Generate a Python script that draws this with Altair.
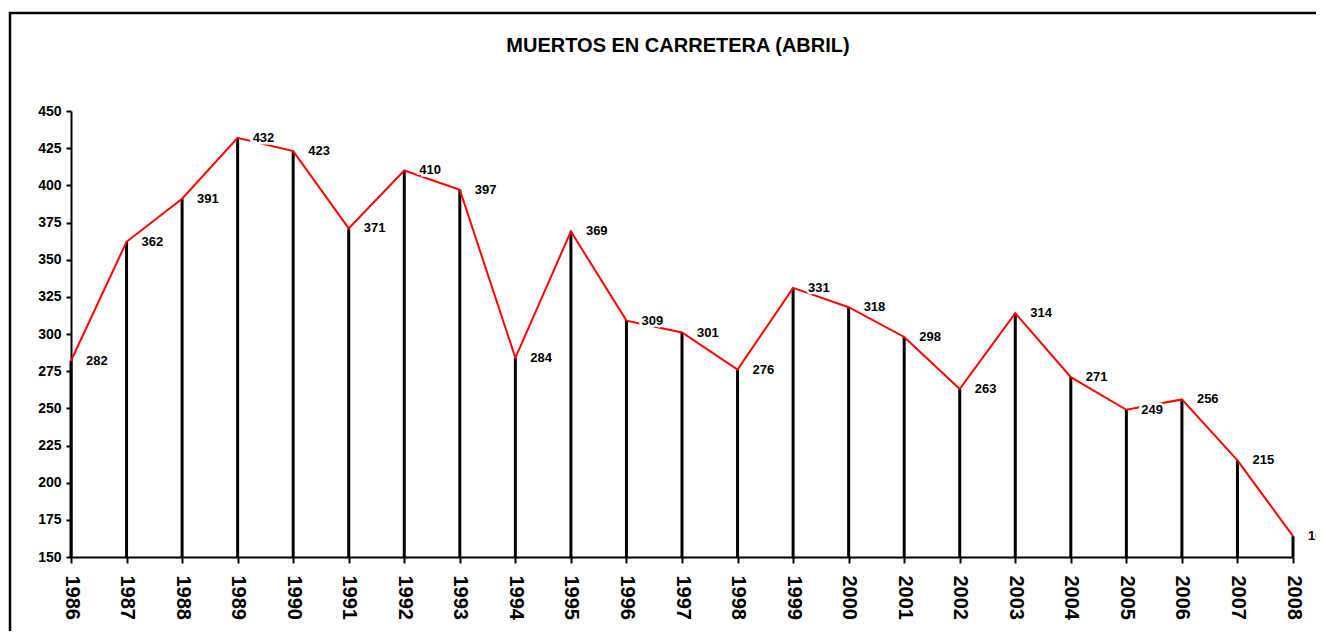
import altair as alt
import pandas as pd

years = list(range(1986, 2009))
deaths = [282, 362, 391, 432, 423, 371, 410, 397, 284, 369, 309, 301, 276,
          331, 318, 298, 263, 314, 271, 249, 256, 215, 164]
y_ticks = [150, 175, 200, 225, 250, 275, 300, 325, 350, 375, 400, 425, 450]

df = pd.DataFrame({"year": years, "deaths": deaths})

FONT = "Liberation Sans"
W, H = 1222, 446

x_enc = alt.X("year:Q",
              scale=alt.Scale(domain=[1986, 2008], nice=False, zero=False),
              axis=alt.Axis(values=years, format="d", labelAngle=90,
                            labelAlign="left", labelBaseline="middle",
                            labelFont=FONT, labelFontSize=20, labelFontWeight="bold",
                            labelColor="black", labelPadding=12,
                            tickSize=6, tickWidth=2, tickColor="black",
                            domainColor="black", domainWidth=2,
                            grid=False, title=None, labelOverlap=False))
y_enc = alt.Y("deaths:Q",
              scale=alt.Scale(domain=[150, 450], nice=False, zero=False),
              axis=alt.Axis(values=y_ticks, labelFont=FONT, labelFontSize=14,
                            labelFontWeight="bold", labelColor="black",
                            labelPadding=5, tickSize=5, tickWidth=2,
                            tickColor="black", domainColor="black",
                            domainWidth=2, grid=False, title=None))

base = alt.Chart(df)

frame = base.mark_rect(fill=None, stroke="black", strokeWidth=2.5).encode(
    x=alt.value(-61), x2=alt.value(1270), y=alt.value(-98), y2=alt.value(560)
).transform_filter(alt.datum.year == 1986)

rules = base.mark_rule(color="black", strokeWidth=3).encode(
    x=x_enc, y=y_enc, y2=alt.datum(150)
)

line = base.mark_line(color="#ff0000", strokeWidth=2).encode(x=x_enc, y=y_enc)

halo = base.mark_text(align="left", baseline="middle", dx=15, font=FONT,
                      fontSize=13, fontWeight="bold", color="white",
                      stroke="white", strokeWidth=5).encode(
    x=x_enc, y=y_enc, text=alt.Text("deaths:Q"))

labels = base.mark_text(align="left", baseline="middle", dx=15, font=FONT,
                        fontSize=13, fontWeight="bold", color="black").encode(
    x=x_enc, y=y_enc, text=alt.Text("deaths:Q"))

chart = alt.layer(frame, rules, line, halo, labels).properties(
    width=W, height=H,
    background="white",
    title=alt.TitleParams("MUERTOS EN CARRETERA (ABRIL)", font=FONT, fontSize=20,
                          fontWeight="bold", color="black", anchor="middle",
                          frame="group", baseline="alphabetic", offset=-60, dx=-4),
    autosize=alt.AutoSizeParams(type="none"),
    padding={"left": 63, "top": 103, "right": 23, "bottom": 74},
).configure_view(strokeWidth=0, stroke=None)

chart.save("out.html", embed_options={"renderer": "svg", "actions": False})
